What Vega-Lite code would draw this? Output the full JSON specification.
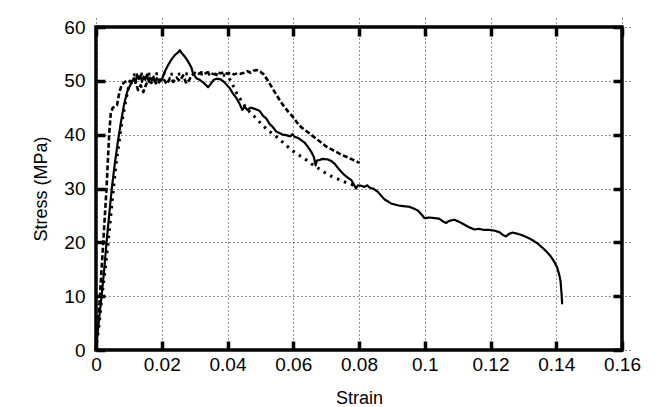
{
  "$schema": "https://vega.github.io/schema/vega-lite/v6.json",
  "width": 526,
  "height": 323,
  "autosize": {"type": "none"},
  "padding": {"left": 96, "top": 27, "right": 40, "bottom": 57},
  "background": "white",
  "config": {
    "view": {"stroke": "black", "strokeWidth": 3.5},
    "axis": {
      "labelFont": "Liberation Sans",
      "titleFont": "Liberation Sans",
      "labelFontSize": 19,
      "titleFontSize": 18,
      "labelColor": "black",
      "titleColor": "black",
      "titleFontWeight": "normal",
      "labelFlush": false,
      "domain": false,
      "offset": -9,
      "tickColor": "black",
      "tickWidth": 3.5,
      "tickSize": 9,
      "gridColor": "#222222",
      "gridDash": [1, 3],
      "gridWidth": 1
    }
  },
  "data": {
    "values": [
      {"s": "solid", "x": 0, "y": 0},
      {"s": "solid", "x": 0.0008, "y": 5},
      {"s": "solid", "x": 0.0017, "y": 10},
      {"s": "solid", "x": 0.0025, "y": 15},
      {"s": "solid", "x": 0.0032, "y": 20},
      {"s": "solid", "x": 0.004, "y": 25},
      {"s": "solid", "x": 0.0048, "y": 30},
      {"s": "solid", "x": 0.0057, "y": 34.5},
      {"s": "solid", "x": 0.0066, "y": 38.5},
      {"s": "solid", "x": 0.0075, "y": 42},
      {"s": "solid", "x": 0.0085, "y": 45.5},
      {"s": "solid", "x": 0.0095, "y": 48},
      {"s": "solid", "x": 0.0105, "y": 49.3},
      {"s": "solid", "x": 0.0115, "y": 50.5},
      {"s": "solid", "x": 0.012, "y": 49.6},
      {"s": "solid", "x": 0.0125, "y": 51.2},
      {"s": "solid", "x": 0.013, "y": 50.3},
      {"s": "solid", "x": 0.0135, "y": 51},
      {"s": "solid", "x": 0.014, "y": 49.8},
      {"s": "solid", "x": 0.0145, "y": 50.8},
      {"s": "solid", "x": 0.015, "y": 50.2},
      {"s": "solid", "x": 0.0155, "y": 51.2},
      {"s": "solid", "x": 0.016, "y": 49.9},
      {"s": "solid", "x": 0.0165, "y": 50.6},
      {"s": "solid", "x": 0.017, "y": 50.1},
      {"s": "solid", "x": 0.0175, "y": 50.8},
      {"s": "solid", "x": 0.018, "y": 49.8},
      {"s": "solid", "x": 0.0185, "y": 50.5},
      {"s": "solid", "x": 0.019, "y": 50.1},
      {"s": "solid", "x": 0.0195, "y": 50.3},
      {"s": "solid", "x": 0.02, "y": 50.2},
      {"s": "solid", "x": 0.021, "y": 51.8},
      {"s": "solid", "x": 0.022, "y": 53},
      {"s": "solid", "x": 0.023, "y": 54},
      {"s": "solid", "x": 0.024, "y": 54.8},
      {"s": "solid", "x": 0.025, "y": 55.3},
      {"s": "solid", "x": 0.0255, "y": 55.7},
      {"s": "solid", "x": 0.026, "y": 55.2},
      {"s": "solid", "x": 0.027, "y": 54.5},
      {"s": "solid", "x": 0.028, "y": 53.6},
      {"s": "solid", "x": 0.029, "y": 52.5},
      {"s": "solid", "x": 0.0295, "y": 51.4},
      {"s": "solid", "x": 0.0305, "y": 50.5},
      {"s": "solid", "x": 0.0315, "y": 50.2},
      {"s": "solid", "x": 0.0326, "y": 49.7},
      {"s": "solid", "x": 0.0335, "y": 49.2},
      {"s": "solid", "x": 0.0341, "y": 48.8},
      {"s": "solid", "x": 0.035, "y": 49.5},
      {"s": "solid", "x": 0.0358, "y": 50.2},
      {"s": "solid", "x": 0.0368, "y": 50.4},
      {"s": "solid", "x": 0.0378, "y": 50.3},
      {"s": "solid", "x": 0.0388, "y": 49.9},
      {"s": "solid", "x": 0.0397, "y": 49.3},
      {"s": "solid", "x": 0.0407, "y": 48.6},
      {"s": "solid", "x": 0.0417, "y": 47.6},
      {"s": "solid", "x": 0.0427, "y": 46.8},
      {"s": "solid", "x": 0.0437, "y": 45.7},
      {"s": "solid", "x": 0.0445, "y": 44.6},
      {"s": "solid", "x": 0.0452, "y": 45.2},
      {"s": "solid", "x": 0.046, "y": 44.6},
      {"s": "solid", "x": 0.047, "y": 45},
      {"s": "solid", "x": 0.0483, "y": 44.8},
      {"s": "solid", "x": 0.0498, "y": 44.4},
      {"s": "solid", "x": 0.0508, "y": 43.5},
      {"s": "solid", "x": 0.0518, "y": 43},
      {"s": "solid", "x": 0.0528, "y": 42},
      {"s": "solid", "x": 0.0538, "y": 41.4},
      {"s": "solid", "x": 0.0548, "y": 40.6},
      {"s": "solid", "x": 0.0558, "y": 40.3},
      {"s": "solid", "x": 0.0569, "y": 40},
      {"s": "solid", "x": 0.0579, "y": 39.9},
      {"s": "solid", "x": 0.0591, "y": 39.7},
      {"s": "solid", "x": 0.0598, "y": 40.1},
      {"s": "solid", "x": 0.0604, "y": 39.6},
      {"s": "solid", "x": 0.0614, "y": 39.4},
      {"s": "solid", "x": 0.0624, "y": 39},
      {"s": "solid", "x": 0.0635, "y": 38.5},
      {"s": "solid", "x": 0.0645, "y": 37.7},
      {"s": "solid", "x": 0.0655, "y": 36.8},
      {"s": "solid", "x": 0.0663, "y": 35.8},
      {"s": "solid", "x": 0.0668, "y": 34.3},
      {"s": "solid", "x": 0.0672, "y": 35.2},
      {"s": "solid", "x": 0.068, "y": 35.3},
      {"s": "solid", "x": 0.069, "y": 35.5},
      {"s": "solid", "x": 0.0705, "y": 35.4},
      {"s": "solid", "x": 0.0716, "y": 35.1},
      {"s": "solid", "x": 0.0726, "y": 34.6},
      {"s": "solid", "x": 0.0736, "y": 33.8},
      {"s": "solid", "x": 0.0746, "y": 33.1},
      {"s": "solid", "x": 0.0756, "y": 32.5},
      {"s": "solid", "x": 0.0766, "y": 32},
      {"s": "solid", "x": 0.0776, "y": 31.6},
      {"s": "solid", "x": 0.0784, "y": 30.8},
      {"s": "solid", "x": 0.0791, "y": 30},
      {"s": "solid", "x": 0.0797, "y": 30.6},
      {"s": "solid", "x": 0.0807, "y": 30.5},
      {"s": "solid", "x": 0.0817, "y": 30.3},
      {"s": "solid", "x": 0.0825, "y": 30.6},
      {"s": "solid", "x": 0.0832, "y": 30.2},
      {"s": "solid", "x": 0.0845, "y": 29.9},
      {"s": "solid", "x": 0.0857, "y": 29.4},
      {"s": "solid", "x": 0.0867, "y": 28.7},
      {"s": "solid", "x": 0.0877, "y": 28},
      {"s": "solid", "x": 0.0888, "y": 27.6},
      {"s": "solid", "x": 0.0898, "y": 27.2},
      {"s": "solid", "x": 0.091, "y": 27},
      {"s": "solid", "x": 0.0923, "y": 26.8},
      {"s": "solid", "x": 0.0938, "y": 26.7},
      {"s": "solid", "x": 0.0953, "y": 26.6},
      {"s": "solid", "x": 0.0966, "y": 26.3},
      {"s": "solid", "x": 0.0979, "y": 25.9},
      {"s": "solid", "x": 0.099, "y": 25.2},
      {"s": "solid", "x": 0.0999, "y": 24.5},
      {"s": "solid", "x": 0.1015, "y": 24.6},
      {"s": "solid", "x": 0.103, "y": 24.5},
      {"s": "solid", "x": 0.1044, "y": 24.4},
      {"s": "solid", "x": 0.1055, "y": 23.9},
      {"s": "solid", "x": 0.1065, "y": 23.6},
      {"s": "solid", "x": 0.1075, "y": 24},
      {"s": "solid", "x": 0.109, "y": 24.2},
      {"s": "solid", "x": 0.1105, "y": 23.8},
      {"s": "solid", "x": 0.112, "y": 23.3},
      {"s": "solid", "x": 0.1135, "y": 22.8},
      {"s": "solid", "x": 0.1151, "y": 22.4},
      {"s": "solid", "x": 0.1165, "y": 22.5},
      {"s": "solid", "x": 0.118, "y": 22.3},
      {"s": "solid", "x": 0.1196, "y": 22.3},
      {"s": "solid", "x": 0.121, "y": 22.2},
      {"s": "solid", "x": 0.1227, "y": 21.9},
      {"s": "solid", "x": 0.1237, "y": 21.4},
      {"s": "solid", "x": 0.1247, "y": 21.1},
      {"s": "solid", "x": 0.1257, "y": 21.6},
      {"s": "solid", "x": 0.1267, "y": 21.8},
      {"s": "solid", "x": 0.1282, "y": 21.6},
      {"s": "solid", "x": 0.1297, "y": 21.3},
      {"s": "solid", "x": 0.1312, "y": 20.9},
      {"s": "solid", "x": 0.1328, "y": 20.4},
      {"s": "solid", "x": 0.1343, "y": 19.8},
      {"s": "solid", "x": 0.1358, "y": 19},
      {"s": "solid", "x": 0.137, "y": 18.3},
      {"s": "solid", "x": 0.1383, "y": 17.4},
      {"s": "solid", "x": 0.1393, "y": 16.5},
      {"s": "solid", "x": 0.1403, "y": 15.3},
      {"s": "solid", "x": 0.1409, "y": 14},
      {"s": "solid", "x": 0.1413, "y": 12.8},
      {"s": "solid", "x": 0.1416, "y": 10.6},
      {"s": "solid", "x": 0.1418, "y": 8.5},
      {"s": "dashed", "x": 0, "y": 0},
      {"s": "dashed", "x": 0.0006, "y": 5},
      {"s": "dashed", "x": 0.0012, "y": 10},
      {"s": "dashed", "x": 0.0017, "y": 15},
      {"s": "dashed", "x": 0.0022, "y": 20},
      {"s": "dashed", "x": 0.0027, "y": 25},
      {"s": "dashed", "x": 0.0032, "y": 30},
      {"s": "dashed", "x": 0.0036, "y": 35},
      {"s": "dashed", "x": 0.004, "y": 40},
      {"s": "dashed", "x": 0.0045, "y": 44},
      {"s": "dashed", "x": 0.0051, "y": 45},
      {"s": "dashed", "x": 0.0058, "y": 45.2},
      {"s": "dashed", "x": 0.0064, "y": 45.5},
      {"s": "dashed", "x": 0.007, "y": 47.5},
      {"s": "dashed", "x": 0.0078, "y": 49.3},
      {"s": "dashed", "x": 0.0088, "y": 49.8},
      {"s": "dashed", "x": 0.0098, "y": 50.1},
      {"s": "dashed", "x": 0.0108, "y": 49.6},
      {"s": "dashed", "x": 0.0118, "y": 50.2},
      {"s": "dashed", "x": 0.0128, "y": 48.3},
      {"s": "dashed", "x": 0.0136, "y": 49.2},
      {"s": "dashed", "x": 0.0144, "y": 47.9},
      {"s": "dashed", "x": 0.0152, "y": 49.3},
      {"s": "dashed", "x": 0.016, "y": 50},
      {"s": "dashed", "x": 0.0168, "y": 49.6},
      {"s": "dashed", "x": 0.0176, "y": 50.2},
      {"s": "dashed", "x": 0.0185, "y": 49.3},
      {"s": "dashed", "x": 0.0195, "y": 50},
      {"s": "dashed", "x": 0.0205, "y": 50.4},
      {"s": "dashed", "x": 0.0215, "y": 49.4},
      {"s": "dashed", "x": 0.0225, "y": 50.5},
      {"s": "dashed", "x": 0.0235, "y": 49.8},
      {"s": "dashed", "x": 0.0245, "y": 50.6},
      {"s": "dashed", "x": 0.0255, "y": 50},
      {"s": "dashed", "x": 0.0265, "y": 51},
      {"s": "dashed", "x": 0.0275, "y": 49.5},
      {"s": "dashed", "x": 0.0283, "y": 50.1},
      {"s": "dashed", "x": 0.029, "y": 50.9},
      {"s": "dashed", "x": 0.03, "y": 51.5},
      {"s": "dashed", "x": 0.031, "y": 51.2},
      {"s": "dashed", "x": 0.032, "y": 51.6},
      {"s": "dashed", "x": 0.033, "y": 51.3},
      {"s": "dashed", "x": 0.034, "y": 51.6},
      {"s": "dashed", "x": 0.035, "y": 51.4},
      {"s": "dashed", "x": 0.036, "y": 51.2},
      {"s": "dashed", "x": 0.037, "y": 51.5},
      {"s": "dashed", "x": 0.038, "y": 51.4},
      {"s": "dashed", "x": 0.039, "y": 51.6},
      {"s": "dashed", "x": 0.04, "y": 51.3},
      {"s": "dashed", "x": 0.041, "y": 51.5},
      {"s": "dashed", "x": 0.042, "y": 51.2},
      {"s": "dashed", "x": 0.043, "y": 51.4},
      {"s": "dashed", "x": 0.044, "y": 51.3},
      {"s": "dashed", "x": 0.045, "y": 51.5},
      {"s": "dashed", "x": 0.046, "y": 51.8},
      {"s": "dashed", "x": 0.047, "y": 51.5},
      {"s": "dashed", "x": 0.048, "y": 51.9},
      {"s": "dashed", "x": 0.049, "y": 52},
      {"s": "dashed", "x": 0.05, "y": 51.7},
      {"s": "dashed", "x": 0.051, "y": 51.2},
      {"s": "dashed", "x": 0.052, "y": 50.3},
      {"s": "dashed", "x": 0.053, "y": 49.3},
      {"s": "dashed", "x": 0.0543, "y": 48},
      {"s": "dashed", "x": 0.0553, "y": 47},
      {"s": "dashed", "x": 0.0563, "y": 46},
      {"s": "dashed", "x": 0.0574, "y": 45.1},
      {"s": "dashed", "x": 0.0586, "y": 44.2},
      {"s": "dashed", "x": 0.0599, "y": 43.3},
      {"s": "dashed", "x": 0.0611, "y": 42.3},
      {"s": "dashed", "x": 0.0624, "y": 41.4},
      {"s": "dashed", "x": 0.0637, "y": 40.8},
      {"s": "dashed", "x": 0.065, "y": 40.2},
      {"s": "dashed", "x": 0.0662, "y": 39.6},
      {"s": "dashed", "x": 0.0675, "y": 39},
      {"s": "dashed", "x": 0.0688, "y": 38.4},
      {"s": "dashed", "x": 0.07, "y": 37.8},
      {"s": "dashed", "x": 0.0715, "y": 37.3},
      {"s": "dashed", "x": 0.0731, "y": 36.8},
      {"s": "dashed", "x": 0.0746, "y": 36.3},
      {"s": "dashed", "x": 0.0761, "y": 35.9},
      {"s": "dashed", "x": 0.0779, "y": 35.4},
      {"s": "dashed", "x": 0.0797, "y": 34.9},
      {"s": "dashed", "x": 0.0802, "y": 34.8},
      {"s": "dotted", "x": 0, "y": 0},
      {"s": "dotted", "x": 0.001, "y": 5},
      {"s": "dotted", "x": 0.0018, "y": 10},
      {"s": "dotted", "x": 0.0028, "y": 15},
      {"s": "dotted", "x": 0.0037, "y": 20},
      {"s": "dotted", "x": 0.0045, "y": 25},
      {"s": "dotted", "x": 0.0053, "y": 30},
      {"s": "dotted", "x": 0.0062, "y": 35},
      {"s": "dotted", "x": 0.0071, "y": 39},
      {"s": "dotted", "x": 0.0078, "y": 42},
      {"s": "dotted", "x": 0.0088, "y": 45.5},
      {"s": "dotted", "x": 0.0098, "y": 48.5},
      {"s": "dotted", "x": 0.0108, "y": 50.4},
      {"s": "dotted", "x": 0.0118, "y": 51.2},
      {"s": "dotted", "x": 0.013, "y": 51.3},
      {"s": "dotted", "x": 0.015, "y": 51.2},
      {"s": "dotted", "x": 0.018, "y": 51.3},
      {"s": "dotted", "x": 0.021, "y": 51.3},
      {"s": "dotted", "x": 0.024, "y": 51.2},
      {"s": "dotted", "x": 0.027, "y": 51.3},
      {"s": "dotted", "x": 0.03, "y": 51.2},
      {"s": "dotted", "x": 0.033, "y": 51.3},
      {"s": "dotted", "x": 0.036, "y": 51.2},
      {"s": "dotted", "x": 0.038, "y": 51.1},
      {"s": "dotted", "x": 0.0395, "y": 51},
      {"s": "dotted", "x": 0.0407, "y": 50.3},
      {"s": "dotted", "x": 0.0417, "y": 49.1},
      {"s": "dotted", "x": 0.0427, "y": 47.8},
      {"s": "dotted", "x": 0.0437, "y": 46.8},
      {"s": "dotted", "x": 0.0452, "y": 45.4},
      {"s": "dotted", "x": 0.0468, "y": 44.2},
      {"s": "dotted", "x": 0.0488, "y": 43},
      {"s": "dotted", "x": 0.0503, "y": 42},
      {"s": "dotted", "x": 0.0518, "y": 41.1},
      {"s": "dotted", "x": 0.0534, "y": 40.3},
      {"s": "dotted", "x": 0.0549, "y": 39.6},
      {"s": "dotted", "x": 0.0564, "y": 38.8},
      {"s": "dotted", "x": 0.0579, "y": 38},
      {"s": "dotted", "x": 0.0594, "y": 37.2},
      {"s": "dotted", "x": 0.0609, "y": 36.5},
      {"s": "dotted", "x": 0.0625, "y": 35.9},
      {"s": "dotted", "x": 0.064, "y": 35.3},
      {"s": "dotted", "x": 0.0655, "y": 34.6},
      {"s": "dotted", "x": 0.067, "y": 34},
      {"s": "dotted", "x": 0.0685, "y": 33.4},
      {"s": "dotted", "x": 0.07, "y": 32.8},
      {"s": "dotted", "x": 0.0715, "y": 32.3},
      {"s": "dotted", "x": 0.0731, "y": 31.9},
      {"s": "dotted", "x": 0.0746, "y": 31.5},
      {"s": "dotted", "x": 0.0761, "y": 31.1},
      {"s": "dotted", "x": 0.0773, "y": 30.8},
      {"s": "dotted", "x": 0.0786, "y": 30.6}
    ]
  },
  "layer": [
    {
      "mark": {"type": "line", "color": "black", "strokeCap": "butt", "strokeJoin": "round"},
      "encoding": {
        "x": {
          "field": "x", "type": "quantitative",
          "scale": {"domain": [0, 0.16], "nice": false, "zero": false},
          "axis": {"orient": "bottom", "title": "Strain", "values": [0, 0.02, 0.04, 0.06, 0.08, 0.1, 0.12, 0.14, 0.16], "format": "~g", "grid": true, "labelPadding": 5, "titlePadding": 15}
        },
        "y": {
          "field": "y", "type": "quantitative",
          "scale": {"domain": [0, 60], "nice": false},
          "axis": {"orient": "left", "title": "Stress (MPa)", "values": [0, 10, 20, 30, 40, 50, 60], "grid": true, "labelPadding": 11, "titlePadding": 13}
        },
        "strokeDash": {
          "field": "s", "type": "nominal", "legend": null,
          "scale": {"domain": ["solid", "dashed", "dotted"], "range": [[1, 0], [5, 2.5], [2.5, 5]]}
        },
        "strokeWidth": {
          "field": "s", "type": "nominal", "legend": null,
          "scale": {"domain": ["solid", "dashed", "dotted"], "range": [2.2, 3, 2.6]}
        }
      }
    },
    {
      "mark": {"type": "point", "opacity": 0},
      "encoding": {
        "x": {
          "field": "x", "type": "quantitative",
          "axis": {"orient": "top", "title": null, "labels": false, "grid": false, "values": [0, 0.02, 0.04, 0.06, 0.08, 0.1, 0.12, 0.14, 0.16]}
        },
        "y": {
          "field": "y", "type": "quantitative",
          "axis": {"orient": "right", "title": null, "labels": false, "grid": false, "values": [0, 10, 20, 30, 40, 50, 60]}
        }
      }
    }
  ],
  "resolve": {"axis": {"x": "independent", "y": "independent"}}
}
